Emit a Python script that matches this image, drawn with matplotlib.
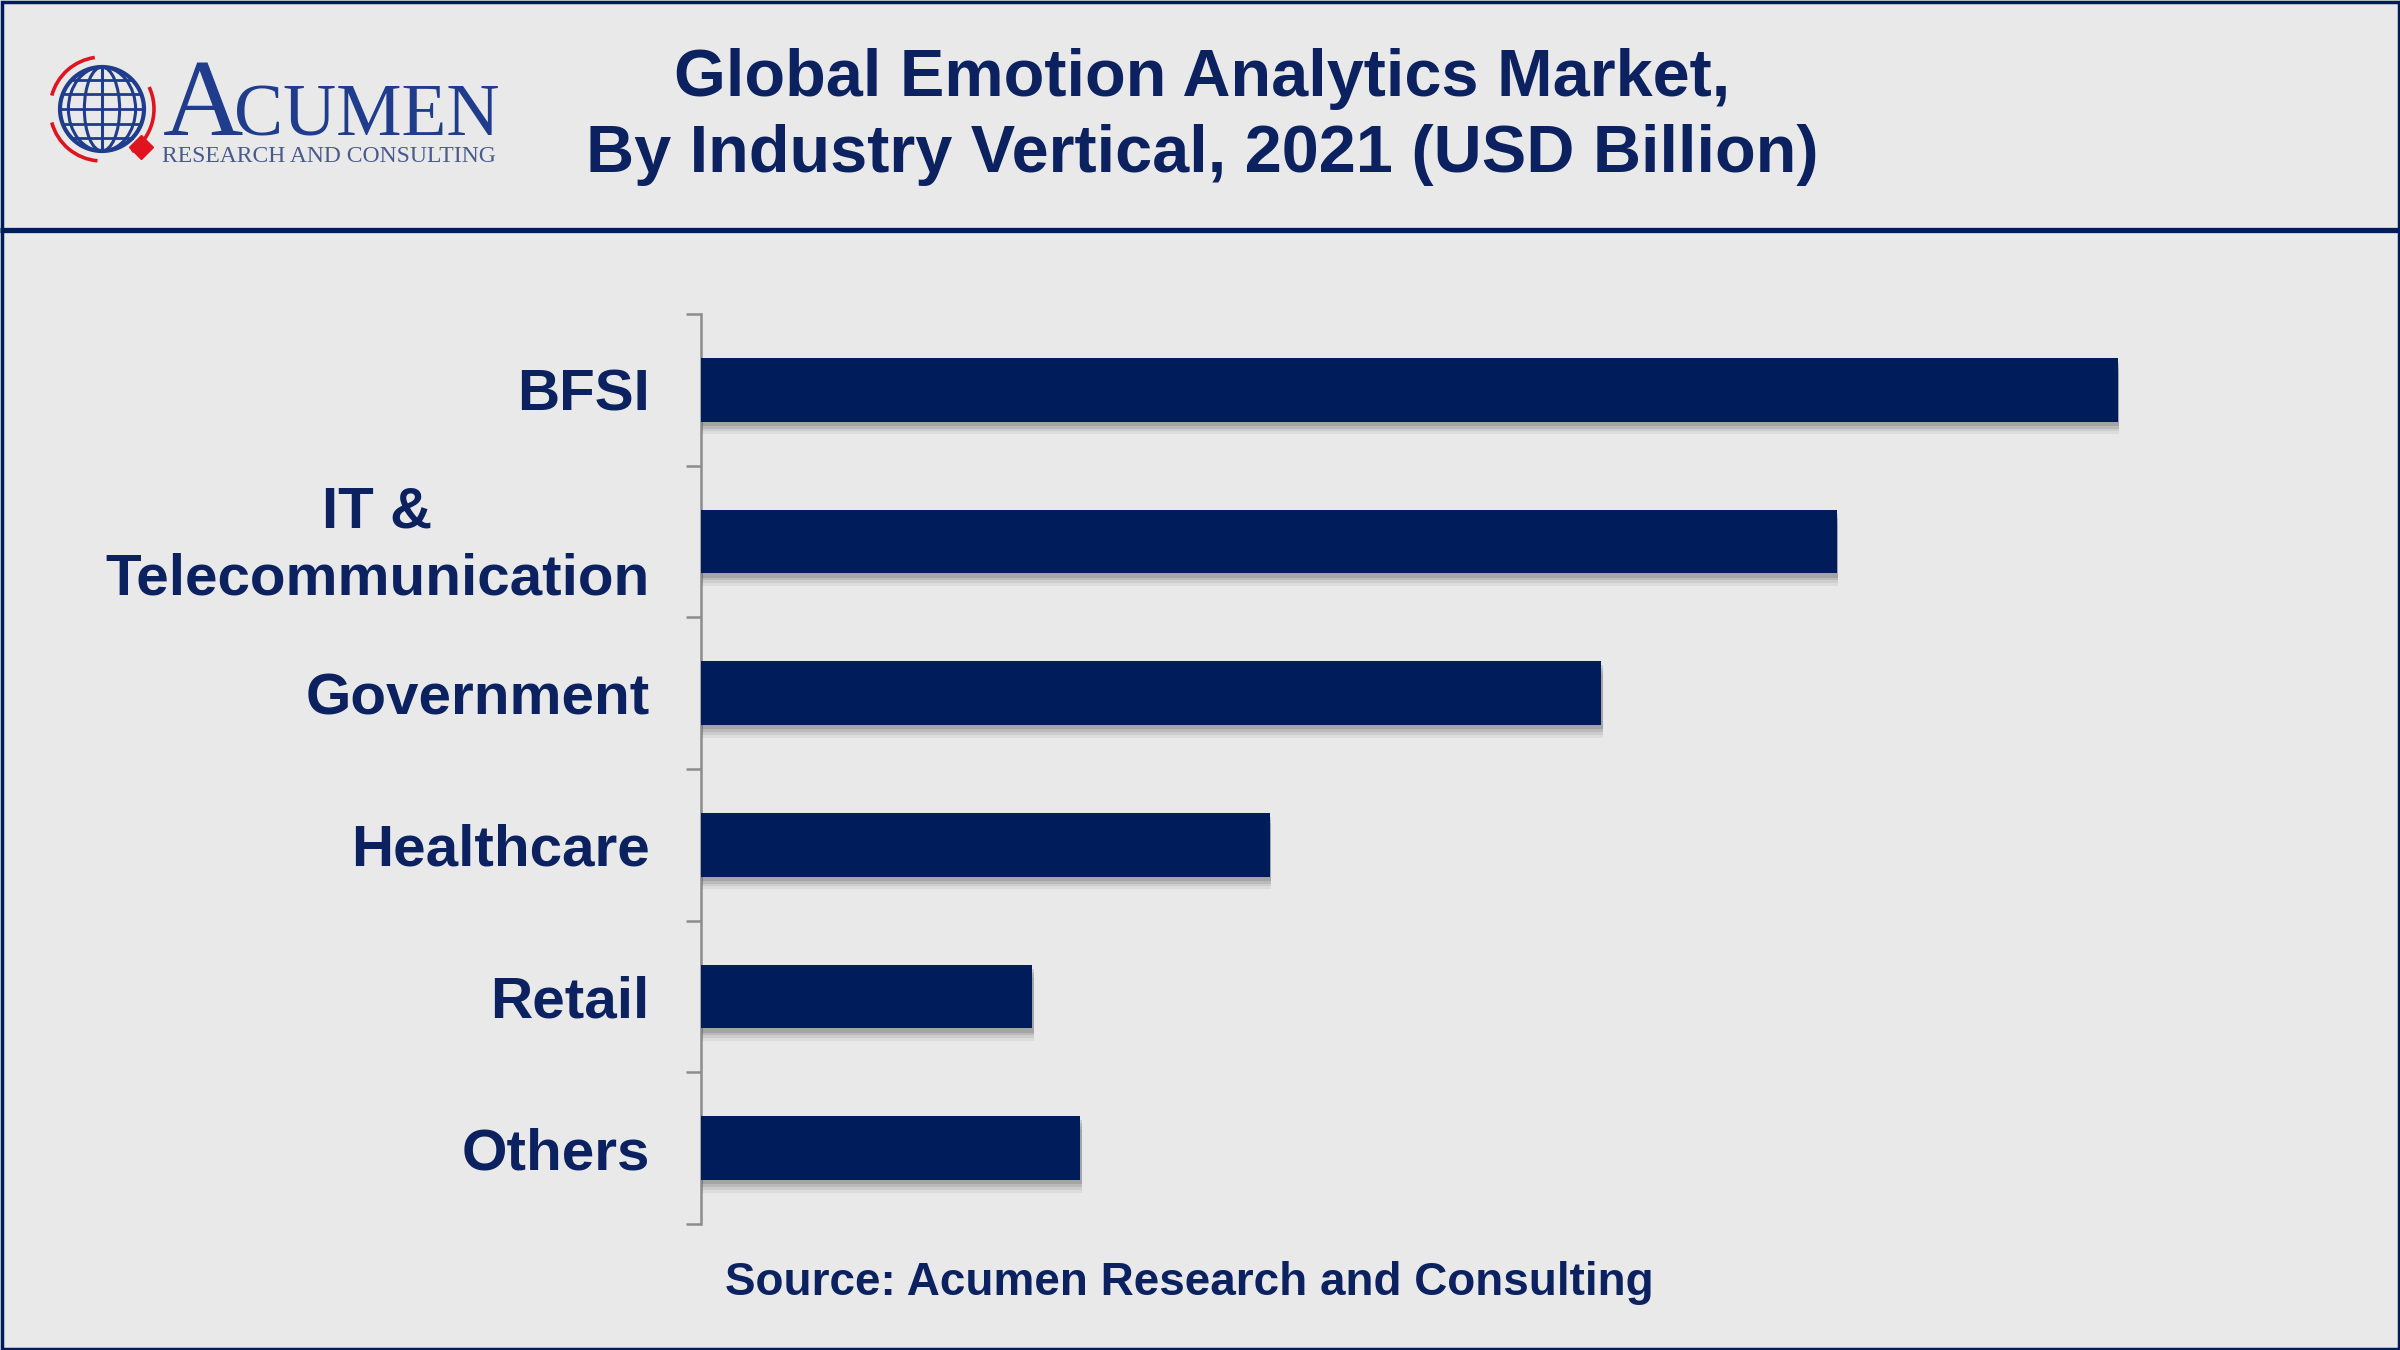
import matplotlib
matplotlib.use("Agg")
import matplotlib.pyplot as plt
import matplotlib.patheffects as pe
from matplotlib.patches import Circle, Ellipse, Arc, Rectangle
from matplotlib.transforms import ScaledTranslation
import numpy as np

# ---- data ----
categories = ["BFSI", "IT &\nTelecommunication", "Government", "Healthcare", "Retail", "Others"]
values = [0.62, 0.497, 0.394, 0.249, 0.145, 0.166]  # USD Billion (estimated)
title_lines = ["Global Emotion Analytics Market,", "By Industry Vertical, 2021 (USD Billion)"]
source_text = "Source: Acumen Research and Consulting"

NAVY = "#001c5a"
TEXT = "#0c2260"
BG = "#e9e9e9"
LOGO_BLUE = "#1f3d8c"

plt.rcParams["font.family"] = ["Liberation Sans", "DejaVu Sans"]

W, H = 2400, 1350
fig = plt.figure(figsize=(24, 13.5), dpi=100, facecolor=BG)

# overlay axes in pixel coordinates
ov = fig.add_axes([0, 0, 1, 1])
ov.set_xlim(0, W)
ov.set_ylim(H, 0)
ov.axis("off")
ov.set_zorder(0)

# border
ov.add_patch(Rectangle((1.5, 1.5), W - 3, H - 3, fill=False, ec=NAVY, lw=2.5))
# header separator
ov.plot([0, W], [230, 230], color=NAVY, lw=3.8, solid_capstyle="butt")

# title
ov.text(1202, 79, title_lines[0], ha="center", va="center", fontsize=48,
        fontweight="bold", color=TEXT)
ov.text(1202, 155, title_lines[1], ha="center", va="center", fontsize=48,
        fontweight="bold", color=TEXT)

# source
ov.text(1189, 1283, source_text, ha="center", va="center", fontsize=33,
        fontweight="bold", color=TEXT)

# ---- logo ----
cx, cy, r = 102, 109, 42
ov.add_patch(Circle((cx, cy), r, fill=False, ec=LOGO_BLUE, lw=3))
for wfac in [0.42, 0.8]:
    ov.add_patch(Ellipse((cx, cy), 2 * r * wfac, 2 * r, fill=False, ec=LOGO_BLUE, lw=2.2))
ov.plot([cx, cx], [cy - r, cy + r], color=LOGO_BLUE, lw=2.2)
for dy in [-0.7, -0.35, 0, 0.35, 0.7]:
    half = r * np.sqrt(1 - dy ** 2)
    ov.plot([cx - half, cx + half], [cy + dy * r, cy + dy * r], color=LOGO_BLUE, lw=2.0)
RED = "#e0141e"
for t1, t2 in [(95, 165), (-25, 55), (195, 262)]:
    ov.add_patch(Arc((cx, cy), 2 * 52, 2 * 52, theta1=t1, theta2=t2, ec=RED, lw=2.6))
ov.plot([141], [147], marker="D", markersize=12, color=RED, mec=RED)
ov.text(163, 135, "A", fontfamily="Liberation Serif", fontsize=80, color=LOGO_BLUE,
        ha="left", va="baseline")
ov.text(234, 135, "CUMEN", fontfamily="Liberation Serif", fontsize=53, color=LOGO_BLUE,
        ha="left", va="baseline")
ov.text(162, 162, "RESEARCH AND CONSULTING", fontfamily="Liberation Serif", fontsize=17,
        color="#4a5a8e", ha="left", va="baseline")

# ---- bar chart ----
left_px, right_px = 701, 2342
top_px, bot_px = 314, 1224
ax = fig.add_axes([left_px / W, 1 - bot_px / H, (right_px - left_px) / W, (bot_px - top_px) / H])
ax.set_facecolor("none")
ax.set_zorder(1)

y = np.arange(len(categories))
bars = ax.barh(y, values, height=0.42, color=NAVY, zorder=3)
shadow = [pe.SimplePatchShadow(offset=(1, -o), shadow_rgbFace="#383838", alpha=a)
          for o, a in [(9, 0.07), (7, 0.09), (5, 0.12), (3, 0.16)]]
for b in bars:
    b.set_path_effects(shadow + [pe.Normal()])

ax.set_xlim(0, 0.62 * (right_px - left_px) / (2118 - left_px))
ax.set_ylim(len(categories) - 0.5, -0.5)

for s in ["top", "right", "bottom"]:
    ax.spines[s].set_visible(False)
ax.spines["left"].set_color("#8c8c8c")
ax.spines["left"].set_linewidth(1.8)
ax.set_xticks([])

ax.set_yticks(y)
ax.set_yticklabels(categories, fontsize=42, fontweight="bold", color=TEXT,
                   multialignment="center", linespacing=1.3)
ax.tick_params(axis="y", which="major", length=0, pad=37)
ax.set_yticks(np.arange(-0.5, len(categories), 1.0), minor=True)
ax.tick_params(axis="y", which="minor", length=11, width=1.8, color="#8c8c8c")

for lbl in ax.get_yticklabels():
    if "\n" in lbl.get_text():
        lbl.set_transform(lbl.get_transform() + ScaledTranslation(0, 0.08, fig.dpi_scale_trans))

fig.savefig("out.png", dpi=100, facecolor=BG)
